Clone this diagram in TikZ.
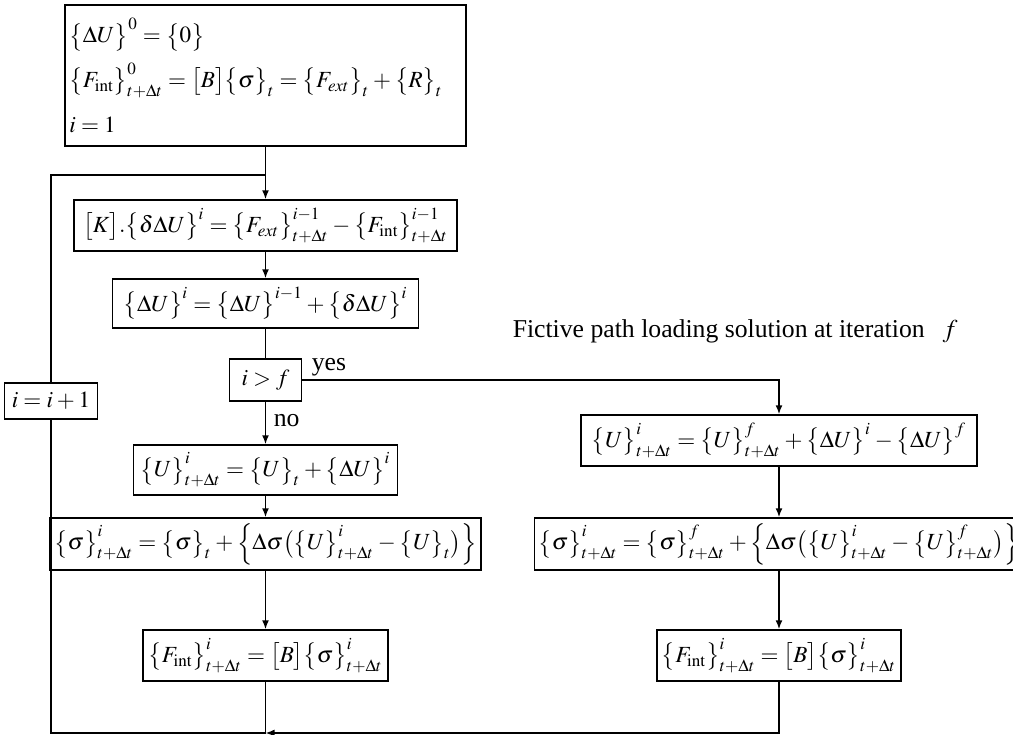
\documentclass[tikz,border=0pt]{standalone}
\usepackage{amsmath}
\usepackage{amssymb}
\usepackage{mathptmx}
\usepackage{fontspec}
\setmainfont{Liberation Serif}
\usepackage{tikz}
\usetikzlibrary{arrows.meta}

\newcommand{\cb}[1]{\bigl\{#1\bigr\}}
\newcommand{\sq}[1]{\bigl[#1\bigr]}
\newcommand{\tdt}{t+\Delta t}
\newcommand{\fint}{F_{\mathrm{int}}}

\begin{document}
\thickmuskip=4mu plus 2mu
\medmuskip=3mu plus 1mu
\begin{tikzpicture}[x=0.5bp, y=-0.5bp, line width=0.75bp,
    box/.style={draw, inner sep=2bp, font=\fontsize{11.6}{14}\selectfont},
    lbl/.style={font=\fontsize{12.9}{15}\selectfont},
    >={Latex[length=4.5bp,width=3.5bp]}]
    \useasboundingbox (0,0) rectangle (1013,735);

    \node[box, align=left, text width=196bp, inner xsep=2.2bp, minimum height=70.5bp,
        font=\fontsize{11.6}{22.5}\selectfont] (init) at (265.5,75.5)
        {$\cb{\Delta U}^{0} = \cb{0}$\\
         $\cb{\fint}^{0}_{\tdt} = \sq{B}\cb{\sigma}_{t} = \cb{F_{ext}}_{t} + \cb{R}_{t}$\\
         $i = 1$};
    \node[box, minimum width=191.5bp, minimum height=25.5bp] (K) at (265.5,225.5)
        {$\sq{K}.\cb{\delta\Delta U}^{i} = \cb{F_{ext}}^{i-1}_{\tdt} - \cb{\fint}^{i-1}_{\tdt}$};
    \node[box, minimum width=153bp, minimum height=24.5bp] (dU) at (265.5,303.5)
        {$\cb{\Delta U}^{i} = \cb{\Delta U}^{i-1} + \cb{\delta\Delta U}^{i}$};
    \node[box, minimum width=36bp, minimum height=21bp] (dec) at (265.5,380) {$i > f$};
    \node[box, minimum width=46.5bp, minimum height=18bp] (inc) at (51,401) {$i = i + 1$};
    \node[box, minimum width=132bp, minimum height=25bp] (Ul) at (265.5,470)
        {$\cb{U}^{i}_{\tdt} = \cb{U}_{t} + \cb{\Delta U}^{i}$};
    \node[box, minimum width=208bp, minimum height=26bp] (Sl) at (265.5,544)
        {$\cb{\sigma}^{i}_{\tdt} = \cb{\sigma}_{t} + \Bigl\{\Delta\sigma\bigl(\cb{U}^{i}_{\tdt} - \cb{U}_{t}\bigr)\Bigr\}$};
    \node[box, minimum width=122.5bp, minimum height=25.5bp] (Fl) at (265.5,655.5)
        {$\cb{\fint}^{i}_{\tdt} = \sq{B}\cb{\sigma}^{i}_{\tdt}$};
    \node[box, minimum width=198bp, minimum height=25.5bp] (Ur) at (779,440.5)
        {$\cb{U}^{i}_{\tdt} = \cb{U}^{f}_{\tdt} + \cb{\Delta U}^{i} - \cb{\Delta U}^{f}$};
    \node[box, minimum width=237bp, minimum height=26bp] (Sr) at (779,544)
        {$\cb{\sigma}^{i}_{\tdt} = \cb{\sigma}^{f}_{\tdt} + \Bigl\{\Delta\sigma\bigl(\cb{U}^{i}_{\tdt} - \cb{U}^{f}_{\tdt}\bigr)\Bigr\}$};
    \node[box, minimum width=122bp, minimum height=25.5bp] (Fr) at (779,655.5)
        {$\cb{\fint}^{i}_{\tdt} = \sq{B}\cb{\sigma}^{i}_{\tdt}$};

    \node[lbl, anchor=base west, inner sep=0pt] (fict) at (512,337)
        {Fictive path loading solution at iteration\hspace{0.7em}$f$};
    \node[lbl, anchor=base west, inner sep=0pt] (yes) at (311,370) {yes};
    \node[lbl, anchor=base west, inner sep=0pt] (no) at (273,426) {no};

    \coordinate (top) at (265.5,175);
    \coordinate (bl) at (51,733);
    \coordinate (bm) at (265.5,733);

    \draw[->] (init) -- (K);
    \draw[->] (K) -- (dU);
    \draw (dU) -- (dec);
    \draw[->] (dec) -- (Ul);
    \draw[->] (dec.east) -| (Ur);
    \draw[->] (Ul) -- (Sl);
    \draw[->] (Sl) -- (Fl);
    \draw[->] (Ur) -- (Sr);
    \draw[->] (Sr) -- (Fr);
    \draw (Fl) |- (bl) -- (inc);
    \draw (inc) |- (top);
    \draw[->] (Fr) |- (bm);
\end{tikzpicture}
\end{document}
